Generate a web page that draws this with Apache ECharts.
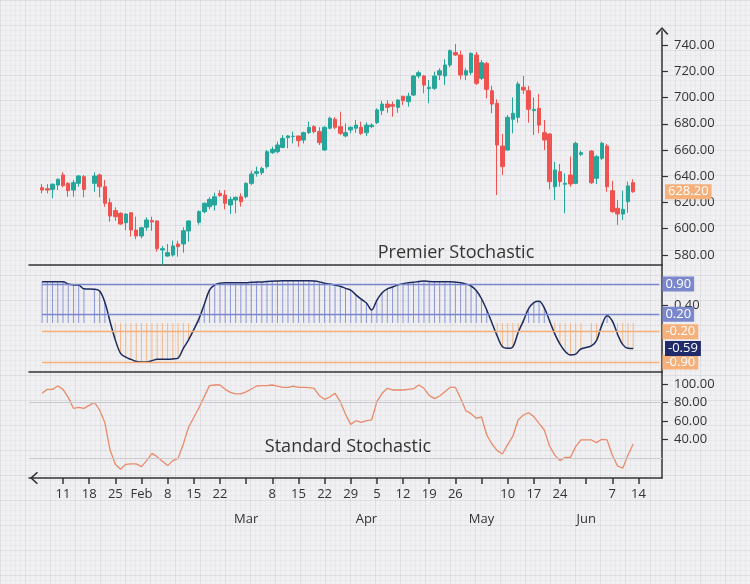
<!DOCTYPE html>
<html><head><meta charset="utf-8">
<script src="https://cdn.jsdelivr.net/npm/echarts@6/dist/echarts.min.js"></script>
<style>
html,body{margin:0;padding:0;background:#f0f0f2;}
#chart{width:750px;height:584px;background-color:#f0f0f2;
background-image:
 linear-gradient(rgba(0,0,0,0.045) 1px, transparent 1px),
 linear-gradient(90deg, rgba(0,0,0,0.045) 1px, transparent 1px),
 linear-gradient(rgba(0,0,0,0.022) 1px, transparent 1px),
 linear-gradient(90deg, rgba(0,0,0,0.022) 1px, transparent 1px);
background-size:25px 25px,25px 25px,5px 5px,5px 5px;}
</style></head><body><div id="chart"></div>
<script>
// weekday categories (2021)
const dates = ['01-01','01-04','01-05','01-06','01-07','01-08','01-11','01-12','01-13','01-14','01-15',
'01-18','01-19','01-20','01-21','01-22','01-25','01-26','01-27','01-28','01-29',
'02-01','02-02','02-03','02-04','02-05','02-08','02-09','02-10','02-11','02-12',
'02-15','02-16','02-17','02-18','02-19','02-22','02-23','02-24','02-25','02-26',
'03-01','03-02','03-03','03-04','03-05','03-08','03-09','03-10','03-11','03-12',
'03-15','03-16','03-17','03-18','03-19','03-22','03-23','03-24','03-25','03-26',
'03-29','03-30','03-31','04-01','04-02','04-05','04-06','04-07','04-08','04-09',
'04-12','04-13','04-14','04-15','04-16','04-19','04-20','04-21','04-22','04-23',
'04-26','04-27','04-28','04-29','04-30','05-03','05-04','05-05','05-06','05-07',
'05-10','05-11','05-12','05-13','05-14','05-17','05-18','05-19','05-20','05-21',
'05-24','05-25','05-26','05-27','05-28','05-31','06-01','06-02','06-03','06-04',
'06-07','06-08','06-09','06-10','06-11','06-14','06-15','06-16','06-17','06-18'];

const opens = [null,null,
631.3,630.5,630.0,633.3,
641.0,634.6,629.5,634.6,639.7,
null,634.6,641.0,632.0,619.9,
613.8,611.8,604.6,612.2,599.0,
594.5,601.1,606.2,605.9,583.8,
579.2,580.0,588.4,588.4,598.3,
null,604.9,613.0,616.8,618.1,
627.0,625.7,618.1,621.9,624.4,
624.4,634.6,642.2,642.7,647.3,
658.0,658.7,662.0,669.4,670.2,
670.7,667.6,673.2,677.8,674.0,
660.0,676.6,683.4,677.8,670.7,
675.3,676.6,677.3,673.2,677.8,
680.8,690.0,695.0,694.5,692.5,
701.0,696.8,701.9,716.4,716.4,
706.7,707.0,717.1,716.4,724.8,
734.2,732.4,717.1,719.0,732.4,
714.6,726.0,705.2,695.6,663.0,
660.0,683.4,684.9,707.8,705.2,
690.0,691.8,673.2,672.2,632.0,
643.5,633.9,641.0,634.6,656.7,
null,659.2,638.4,653.7,663.0,
629.0,615.6,611.2,620.6,635.1];

const closes = [null,null,
629.5,629.5,633.9,637.7,
632.8,629.0,635.1,640.2,630.0,
null,640.2,632.0,619.4,609.7,
609.2,603.6,611.2,599.0,594.5,
600.8,606.7,605.2,584.8,584.8,
581.8,586.9,586.3,598.5,605.9,
null,613.0,619.4,622.4,624.4,
625.2,619.4,622.4,624.0,620.6,
634.6,641.7,643.5,646.0,658.7,
660.5,663.8,668.9,670.7,670.5,
667.1,673.2,677.3,674.0,665.6,
677.3,684.2,677.3,672.7,673.2,
677.3,679.0,672.7,679.0,679.0,
690.5,695.0,692.5,693.4,698.1,
697.6,701.0,716.4,718.9,709.5,
707.8,716.4,720.4,724.8,735.7,
732.4,717.1,720.4,733.6,710.8,
726.5,706.2,695.0,663.8,647.3,
684.9,688.0,710.3,705.7,691.0,
691.0,679.0,667.6,635.9,644.8,
635.9,634.6,634.1,665.1,658.0,
null,635.1,654.9,665.1,632.0,
613.0,611.2,614.8,632.6,628.2];

const lows = [null,null,
627.0,627.0,623.2,629.5,
631.6,624.4,624.4,632.0,624.0,
null,628.2,624.0,616.8,605.4,
606.1,603.0,599.0,594.0,592.0,
592.7,598.5,598.5,582.5,572.5,
578.7,578.7,578.7,581.8,590.1,
null,603.1,611.8,614.8,613.8,
624.4,614.8,611.2,611.8,616.8,
623.2,633.3,639.7,641.0,645.8,
657.0,657.5,661.3,661.3,665.0,
662.5,665.0,672.2,672.6,663.8,
659.4,675.8,675.8,671.4,669.7,
672.7,673.2,671.4,670.7,676.6,
679.8,686.7,688.4,685.4,688.4,
694.3,693.0,701.1,714.6,703.2,
695.6,705.7,713.3,709.5,723.0,
731.6,713.8,713.3,717.1,709.5,
713.3,699.4,688.0,625.7,641.0,
659.4,672.7,680.8,702.7,680.8,
671.4,672.7,660.0,630.0,621.9,
632.0,611.8,632.0,634.0,655.4,
null,634.0,634.0,652.4,628.2,
612.2,602.9,606.7,612.2,627.5];

const highs = [null,null,
634.0,634.0,634.6,638.3,
643.0,635.4,637.1,641.0,641.0,
null,643.0,642.0,637.1,623.2,
616.3,612.6,611.8,612.6,609.2,
601.5,608.7,609.2,606.5,586.9,
588.4,590.9,590.9,601.1,606.5,
null,614.0,620.0,624.0,627.5,
629.5,629.5,624.5,624.5,627.0,
635.4,644.2,647.3,647.3,660.0,
662.5,666.3,671.4,671.4,674.0,
670.7,674.0,681.6,679.0,677.3,
678.1,685.4,685.0,689.2,680.3,
678.0,682.9,681.6,681.0,680.3,
691.8,697.5,698.0,697.0,698.6,
701.0,703.7,717.1,720.4,717.1,
713.3,719.7,722.3,729.1,736.7,
740.8,735.7,722.3,734.4,734.7,
728.5,727.2,708.8,698.6,672.2,
686.7,700.1,712.1,716.4,708.8,
700.1,702.7,682.9,672.7,651.1,
649.3,642.2,655.0,666.3,659.4,
null,660.0,656.2,666.3,664.6,
636.6,621.9,629.0,635.9,637.7];

const premier = [null,null,
0.954,0.954,0.954,0.954,
0.954,0.90,0.88,0.875,0.79,
null,0.78,0.74,0.48,0.03,
-0.39,-0.70,-0.79,-0.84,-0.89,
-0.90,-0.90,-0.87,-0.84,-0.84,
-0.84,-0.83,-0.81,-0.585,-0.39,
null,0.10,0.43,0.76,0.88,
0.92,0.93,0.93,0.93,0.93,
0.93,0.94,0.945,0.95,0.96,
0.965,0.97,0.975,0.977,0.977,
0.977,0.977,0.977,0.97,0.95,
0.92,0.90,0.875,0.85,0.80,
0.76,0.65,0.55,0.46,0.30,
0.53,0.70,0.79,0.83,0.88,
0.91,0.93,0.94,0.96,0.97,
0.96,0.955,0.955,0.955,0.955,
0.945,0.93,0.90,0.855,0.75,
0.56,0.30,0.0,-0.30,-0.55,
-0.585,-0.55,-0.22,0.05,0.33,
0.47,0.50,0.35,0.05,-0.25,
-0.49,-0.66,-0.74,-0.72,-0.60,
null,-0.53,-0.40,-0.05,0.17,
0.05,-0.26,-0.50,-0.585,-0.59];

const standard = [null,null,
89.9,94.2,94.2,97.8,
94.2,85.5,73.6,74.7,73.6,
null,80.1,71.8,58.1,28.4,
12.9,7.5,12.9,13.3,13.3,
10.4,16.9,24.8,21.2,16.2,
11.5,16.9,19.4,35.0,53.1,
null,74.3,86.3,98.2,98.9,
98.9,94.2,90.9,89.2,89.2,
91.4,94.6,97.8,98.2,98.2,
98.9,97.8,96.4,96.4,97.8,
96.4,96.4,96.0,95.3,87.3,
83.4,85.9,89.9,80.9,67.1,
56.2,60.2,58.4,60.2,61.0,
80.9,89.9,95.3,93.5,93.5,
93.5,94.2,94.9,98.9,95.3,
87.7,84.1,87.0,91.7,96.4,
96.4,84.5,71.1,67.8,62.8,
64.2,44.7,34.9,27.7,24.1,
34.2,43.6,60.9,66.4,68.9,
64.6,57.3,50.1,32.7,22.9,
16.9,20.5,20.5,32.1,39.3,
null,39.3,36.4,40.0,39.3,
22.9,11.1,8.6,22.9,34.9];

const tickDates = ['01-11','01-18','01-25','02-01','02-08','02-15','02-22','03-01','03-08','03-15','03-22','03-29','04-05','04-12','04-19','04-26','05-03','05-10','05-17','05-24','05-31','06-07','06-14'];
const tickLabels = ['11','18','25','Feb','8','15','22','','8','15','22','29','5','12','19','26','','10','17','24','','7','14'];
const monthDates = ['03-01','04-01','05-03','05-31'];
const monthLabels = ['Mar','Apr','May','Jun'];
const priceTicks = [580,600,620,640,660,680,700,720,740];
const premierTicks = [0.4];
const standardTicks = [40,60,80,100];
const premierLevels = [0.9,0.2,-0.2,-0.9];
const standardLevels = [80,20];

const FONT = "'Open Sans', sans-serif";
const AX = '#333';
const UP = '#26a69a', DOWN = '#ef5350';
const BLUE = '#7b87cc', ORANGE = '#f5b07b';
const CHEV = 'path://M0,7 L6.5,0 L13,7 L11.8,8.2 L6.5,2.4 L1.2,8.2 Z';

const candleData = dates.map((d,i)=> opens[i]==null ? '-' : [opens[i], closes[i], lows[i], highs[i]]);
const barData = dates.map((d,i)=> premier[i]==null ? '-' : {value: premier[i], itemStyle:{color: premier[i] >= 0 ? '#8a95d8' : '#f6b685'}});
const premierLine = dates.map((d,i)=> premier[i]==null ? '-' : premier[i]);
const standardLine = dates.map((d,i)=> standard[i]==null ? '-' : standard[i]);
const lastClose = closes[closes.length-1];
const lastPremier = premier[premier.length-1];

function sepX(gi){
  return {type:'category', gridIndex:gi, data:dates, boundaryGap:true,
    axisLine:{show:true, onZero:false, lineStyle:{color:AX, width:1.5}},
    axisTick:{show:false}, axisLabel:{show:false}, splitLine:{show:false}};
}
function badge(bg){
  return {show:true, position:'end', distance:3, backgroundColor:bg, color:'#fff',
    padding:[1,3,0,3], fontSize:13, fontFamily:FONT, lineHeight:14};
}

const chart = echarts.init(document.getElementById('chart'), null, {renderer:'canvas'});
chart.setOption({
  animation:false,
  backgroundColor:'transparent',
  textStyle:{fontFamily:FONT},
  grid:[
    {left:29, right:88, top:31, height:234},
    {left:29, right:88, top:265, height:107},
    {left:29, right:88, top:372, height:106}
  ],
  xAxis:[
    sepX(0), sepX(1),
    {type:'category', gridIndex:2, data:dates, boundaryGap:true,
      axisLine:{show:true, onZero:false, symbol:[CHEV,'none'], symbolSize:[13,8], symbolOffset:[5,0], lineStyle:{color:AX, width:1.5}},
      axisTick:{show:true, alignWithLabel:true, length:6, interval:(i,v)=>tickDates.indexOf(v)>=0, lineStyle:{color:AX, width:1.5}},
      axisLabel:{interval:0, margin:10, color:'#333', fontSize:13, fontFamily:FONT,
        formatter:(v)=>{const k=tickDates.indexOf(v); return k>=0 ? tickLabels[k] : '';}},
      splitLine:{show:false}},
    {type:'category', gridIndex:2, data:dates, boundaryGap:true, position:'bottom',
      axisLine:{show:false}, axisTick:{show:false}, splitLine:{show:false},
      axisLabel:{interval:0, margin:35, color:'#333', fontSize:13, fontFamily:FONT,
        formatter:(v)=>{const k=monthDates.indexOf(v); return k>=0 ? monthLabels[k] : '';}}}
  ],
  yAxis:[
    {type:'value', gridIndex:0, position:'right', min:572.38, max:750.67,
      axisLine:{show:true, symbol:['none',CHEV], symbolSize:[13,8], lineStyle:{color:AX, width:1.5}},
      axisTick:{show:true, customValues:priceTicks, length:6, lineStyle:{color:AX, width:1.2}},
      axisLabel:{customValues:priceTicks, margin:12, color:'#333', fontSize:13, fontFamily:FONT, formatter:v=>v.toFixed(2)},
      splitLine:{show:false}},
    {type:'value', gridIndex:1, position:'right', min:-1.132, max:1.34,
      axisLine:{show:true, lineStyle:{color:AX, width:1.5}},
      axisTick:{show:true, customValues:premierTicks, length:6, lineStyle:{color:AX, width:1.2}},
      axisLabel:{customValues:premierTicks, margin:12, color:'#333', fontSize:13, fontFamily:FONT, formatter:v=>v.toFixed(2)},
      splitLine:{show:false}},
    {type:'value', gridIndex:2, position:'right', min:-1.95, max:113,
      axisLine:{show:true, lineStyle:{color:AX, width:1.5}},
      axisTick:{show:true, customValues:standardTicks, length:6, lineStyle:{color:AX, width:1.2}},
      axisLabel:{customValues:standardTicks, margin:12, color:'#333', fontSize:13, fontFamily:FONT, formatter:v=>v.toFixed(2)},
      splitLine:{show:false}}
  ],
  series:[
    {type:'candlestick', xAxisIndex:0, yAxisIndex:0, data:candleData, barWidth:4,
      itemStyle:{color:UP, color0:DOWN, borderColor:UP, borderColor0:DOWN, borderWidth:1},
      markLine:{silent:true, symbol:['none','none'], animation:false,
        lineStyle:{color:'rgba(0,0,0,0)', width:0},
        label:Object.assign(badge('#f5b07b'), {formatter:()=>lastClose.toFixed(2)}),
        data:[{yAxis:lastClose}]}},
    {type:'bar', xAxisIndex:1, yAxisIndex:1, data:barData, barWidth:1, z:2,
      markLine:{silent:true, symbol:['none','none'], animation:false,
        data: premierLevels.map(v=>{
          const c = v>0 ? BLUE : ORANGE;
          const lab = Object.assign(badge(c), {formatter:()=>v.toFixed(2)});
          return [{coord:[dates[2], v], value:v, lineStyle:{color:c, width:1.3, type:'solid'}, label:lab},
                  {coord:[dates[dates.length-1], v], value:v}];
        })}},
    {type:'line', xAxisIndex:1, yAxisIndex:1, data:premierLine, smooth:0.35, connectNulls:true,
      symbol:'none', z:4, lineStyle:{color:'#1c2a5e', width:1.5},
      markLine:{silent:true, symbol:['none','none'], animation:false,
        lineStyle:{color:'rgba(0,0,0,0)', width:0},
        label:Object.assign(badge('#1f2b6b'), {formatter:()=>lastPremier.toFixed(2)}),
        data:[{yAxis:lastPremier}]}},
    {type:'line', xAxisIndex:2, yAxisIndex:2, data:standardLine, connectNulls:true,
      symbol:'none', z:4, lineStyle:{color:'#e98a6b', width:1.3},
      markLine:{silent:true, symbol:['none','none'], animation:false,
        lineStyle:{color:'#c9c9ce', width:1.2, type:'solid'}, label:{show:false},
        data: standardLevels.map(v=>({yAxis:v}))}}
  ],
  graphic:[
    {type:'text', x:456, y:253, z:10, style:{text:'Premier Stochastic', fill:'#333', fontSize:18, fontFamily:FONT, align:'center', verticalAlign:'middle'}},
    {type:'text', x:348, y:447, z:10, style:{text:'Standard Stochastic', fill:'#333', fontSize:18, fontFamily:FONT, align:'center', verticalAlign:'middle'}}
  ]
});
</script>
</body></html>
